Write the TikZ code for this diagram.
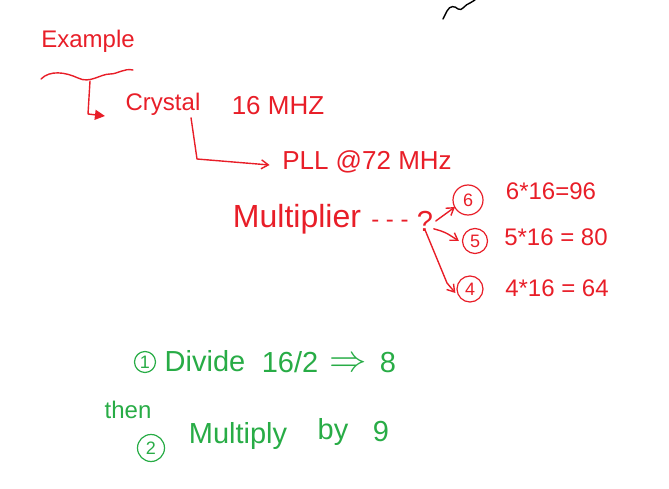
\documentclass[tikz,border=0pt]{standalone}
\usepackage{fontspec}
\setmainfont{Liberation Sans}
\usepackage{xcolor}
\usetikzlibrary{arrows.meta, positioning, calc}
\definecolor{inkred}{RGB}{232,30,40}
\definecolor{inkgreen}{RGB}{40,172,70}

\begin{document}
\begin{tikzpicture}[x=1pt, y=-1pt, line width=1.4pt, line cap=round, line join=round,
    every node/.style={inner sep=0pt, font=\fontsize{24}{26}\selectfont},
    big/.style={font=\fontsize{29}{31}\selectfont},
    rednote/.style={text=inkred},
    greennote/.style={text=inkgreen},
    num/.style={circle, draw, line width=1.2pt, minimum size=#1, font=\fontsize{18}{19}\selectfont},
    redarrow/.style={draw=inkred, -{Straight Barb[length=7pt, width=9pt]}}]
    \useasboundingbox (0,0) rectangle (669,489);

    % scribble at the top
    \draw (443,19) -- (447,11) .. controls (450,5) and (455,6) .. (458,9)
        .. controls (462,12) and (465,4) .. (470,3) -- (475,0);

    % red part
    \node[rednote] (example) at (88,41) {Example};
    \draw[inkred] (41,79) .. controls (50,70) and (65,72) .. (78,78)
        .. controls (90,84) and (100,74) .. (110,74)
        .. controls (118,74) and (124,68) .. (133,70);
    \coordinate (wave) at (90,81);
    \node[rednote] (crystal) at (163,104) {Crystal};
    \node[rednote, font=\fontsize{26}{28}\selectfont] (freq) at (278,106) {16 MHZ};
    \draw[inkred, -{Triangle[length=10pt, width=10pt]}] (wave) -- (88,114)
        -- ([xshift=-20pt, yshift=-12pt]crystal.west);
    \node[rednote, font=\fontsize{26}{28}\selectfont] (pll) at (367,162) {PLL @72 MHz};
    \draw[redarrow] ([xshift=-10pt, yshift=-2pt]crystal.south east) -- (197,159)
        -- ([xshift=-12pt, yshift=-3pt]pll.west);

    \node[rednote, font=\fontsize{32}{34}\selectfont] (mult) at (297,219) {Multiplier};
    \node[rednote] (dash) at (390,224) {- - -};
    \node[rednote, big] (q) at (425,221) {?};
    \node[num=30pt, draw=inkred, text=inkred] (c6) at (468,200) {6};
    \node[num=25pt, draw=inkred, text=inkred] (c5) at (475,241) {5};
    \node[num=26pt, draw=inkred, text=inkred] (c4) at (470,289) {4};
    \draw[redarrow] ([shift={(2pt,0pt)}]q.east) -- ([shift={(-2pt,4pt)}]c6.south west);
    \draw[redarrow] ([shift={(0pt,3pt)}]q.south east) .. controls (445,232) .. ([xshift=-3pt]c5.west);
    \draw[redarrow] ([yshift=2pt]q.south) -- (447,283) -- ([xshift=-1pt, yshift=-4pt]c4.west);
    \node[rednote] (r6) at (551,191) {6*16=96};
    \node[rednote] (r5) at (556,237) {5*16 = 80};
    \node[rednote] (r4) at (557,288) {4*16 = 64};

    % green part
    \node[num=21pt, draw=inkgreen, text=inkgreen] (s1) at (145,362) {1};
    \node[greennote, big] (divide) at (205,361) {Divide};
    \node[greennote, big] (half) at (290,362) {16/2};
    \node[greennote] (gives) at (348,365) {\scalebox{1.5}{$\Rightarrow$}};
    \node[greennote, big] (eight) at (388,363) {8};
    \node[greennote] (then) at (128,410) {then};
    \node[num=27pt, draw=inkgreen, text=inkgreen] (s2) at (151,448) {2};
    \node[greennote, big] (multiply) at (238,436) {Multiply};
    \node[greennote, big] (by) at (333,432) {by};
    \node[greennote, big] (nine) at (381,432) {9};
\end{tikzpicture}
\end{document}
